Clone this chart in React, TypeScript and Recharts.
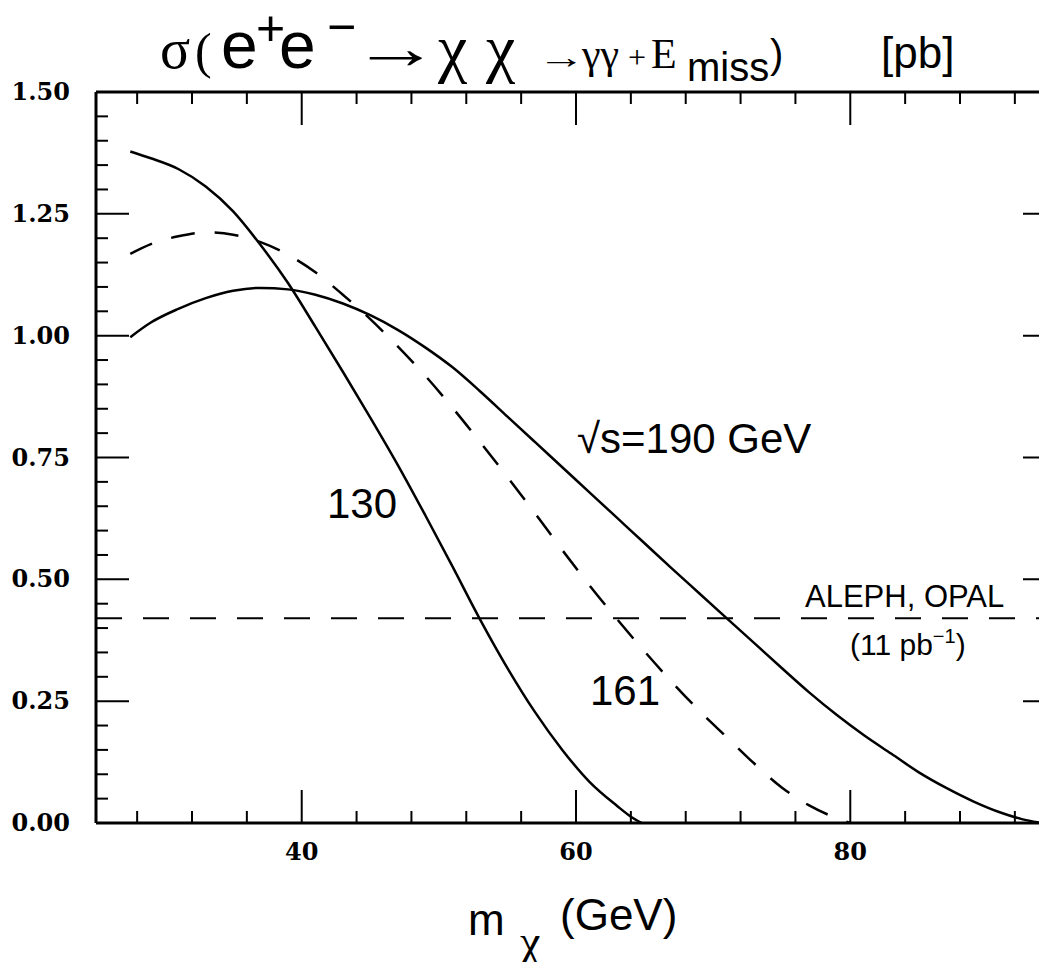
import React from 'react'
import { LineChart, Line, XAxis, YAxis, ReferenceLine } from 'recharts'

// sqrt(s) = 130 GeV (solid)
const mass130 = [27.5, 29, 31, 33, 35, 37, 39, 41, 43, 45, 47, 49, 51, 53, 55, 57, 59, 61, 63, 64, 64.8]
const sigma130 = [1.378, 1.364, 1.342, 1.306, 1.255, 1.186, 1.108, 1.018, 0.926, 0.832, 0.735, 0.632, 0.526, 0.418, 0.318, 0.228, 0.15, 0.084, 0.035, 0.013, 0]

// sqrt(s) = 161 GeV (dashed)
const mass161 = [27.5, 29, 31, 33, 35, 37, 39, 41, 43, 45, 47, 49, 51, 53, 55, 57, 59, 61, 63, 65, 67, 69, 71, 73, 75, 77, 79, 80]
const sigma161 = [1.168, 1.188, 1.204, 1.212, 1.207, 1.192, 1.166, 1.13, 1.084, 1.034, 0.978, 0.918, 0.852, 0.782, 0.71, 0.636, 0.56, 0.487, 0.418, 0.352, 0.289, 0.23, 0.176, 0.122, 0.073, 0.036, 0.01, 0]

// sqrt(s) = 190 GeV (solid)
const mass190 = [27.5, 29, 31, 33, 35, 37, 39, 41, 43, 45, 47, 49, 51, 53, 55, 57, 59, 61, 63, 65, 67, 69, 71, 73, 75, 77, 79, 81, 83, 85, 87, 89, 91, 92.5, 94]
const sigma190 = [0.997, 1.027, 1.055, 1.077, 1.092, 1.098, 1.095, 1.084, 1.066, 1.042, 1.012, 0.976, 0.935, 0.886, 0.834, 0.782, 0.73, 0.678, 0.626, 0.574, 0.522, 0.471, 0.42, 0.369, 0.318, 0.268, 0.222, 0.18, 0.142, 0.104, 0.072, 0.044, 0.021, 0.008, 0]

// ALEPH, OPAL limit (11 pb^-1)
const limitSigma = 0.42

const xTicks = [28, 32, 36, 40, 44, 48, 52, 56, 60, 64, 68, 72, 76, 80, 84, 88, 92]
const xLabels = [40, 60, 80]
const yTicks = [0, 0.05, 0.1, 0.15, 0.2, 0.25, 0.3, 0.35, 0.4, 0.45, 0.5, 0.55, 0.6, 0.65, 0.7, 0.75, 0.8, 0.85, 0.9, 0.95, 1, 1.05, 1.1, 1.15, 1.2, 1.25, 1.3, 1.35, 1.4, 1.45, 1.5]
const yLabels = [0, 0.25, 0.5, 0.75, 1, 1.25, 1.5]

const toRows = (xs: number[], ys: number[]) => xs.map((m, i) => ({ m, s: ys[i] }))

const tickFont = { fontFamily: '"DejaVu Serif", "Liberation Serif", serif', fontSize: 24, fontWeight: 700 }
const SANS = '"Liberation Sans", Arial, sans-serif'
const SERIF = '"Liberation Serif", "DejaVu Serif", serif'

const isMajorY = (v: number) => yLabels.some((l) => Math.abs(l - v) < 1e-6)

const BottomTick = (props: any) => {
  const { x, y, payload } = props
  const major = xLabels.includes(payload.value)
  return (
    <g>
      <line x1={x} x2={x} y1={y} y2={y - (major ? 33 : 12)} stroke="#000" strokeWidth={2} />
      {major && (
        <text x={x} y={y + 37} textAnchor="middle" {...tickFont} fill="#000">
          {payload.value}
        </text>
      )}
    </g>
  )
}

const TopTick = (props: any) => {
  const { x, y, payload } = props
  const major = xLabels.includes(payload.value)
  return <line x1={x} x2={x} y1={y} y2={y + (major ? 33 : 12)} stroke="#000" strokeWidth={2} />
}

const LeftTick = (props: any) => {
  const { x, y, payload } = props
  const major = isMajorY(payload.value)
  return (
    <g>
      <line x1={x} x2={x + (major ? 33 : 12)} y1={y} y2={y} stroke="#000" strokeWidth={2} />
      {major && (
        <text x={x - 26} y={y + 8} textAnchor="end" {...tickFont} fill="#000">
          {payload.value.toFixed(2)}
        </text>
      )}
    </g>
  )
}

const RightTick = (props: any) => {
  const { x, y, payload } = props
  const major = isMajorY(payload.value)
  return <line x1={x} x2={x - (major ? 33 : 12)} y1={y} y2={y} stroke="#000" strokeWidth={2} />
}

const axisLine = { stroke: '#000', strokeWidth: 3 }

export default function App() {
  return (
    <div style={{ margin: -8, width: 1047, height: 970, overflow: 'hidden', position: 'relative', background: '#fff' }}>
      <LineChart width={1100} height={970} margin={{ top: 91, right: 43, bottom: 0, left: 0 }}>
        <XAxis
          xAxisId="bottom"
          type="number"
          dataKey="m"
          domain={[25, 95]}
          allowDataOverflow
          ticks={xTicks}
          interval={0}
          tickSize={0}
          tickMargin={0}
          height={147}
          axisLine={axisLine}
          tickLine={false}
          tick={<BottomTick />}
        />
        <XAxis
          xAxisId="top"
          orientation="top"
          type="number"
          dataKey="m"
          domain={[25, 95]}
          allowDataOverflow
          ticks={xTicks}
          interval={0}
          tickSize={0}
          tickMargin={0}
          height={1}
          axisLine={axisLine}
          tickLine={false}
          tick={<TopTick />}
        />
        <YAxis
          yAxisId="left"
          type="number"
          domain={[0, 1.5]}
          allowDataOverflow
          ticks={yTicks}
          interval={0}
          tickSize={0}
          tickMargin={0}
          width={96}
          axisLine={axisLine}
          tickLine={false}
          tick={<LeftTick />}
        />
        <YAxis
          yAxisId="right"
          orientation="right"
          type="number"
          domain={[0, 1.5]}
          allowDataOverflow
          ticks={yTicks}
          interval={0}
          tickSize={0}
          tickMargin={0}
          width={1}
          axisLine={axisLine}
          tickLine={false}
          tick={<RightTick />}
        />
        <ReferenceLine xAxisId="bottom" yAxisId="left" y={limitSigma} stroke="#000" strokeWidth={2} strokeDasharray="26 21" />
        <Line
          xAxisId="bottom"
          yAxisId="left"
          data={toRows(mass130, sigma130)}
          dataKey="s"
          type="monotone"
          stroke="#000"
          strokeWidth={2.5}
          dot={false}
          isAnimationActive={false}
        />
        <Line
          xAxisId="bottom"
          yAxisId="left"
          data={toRows(mass161, sigma161)}
          dataKey="s"
          type="monotone"
          stroke="#000"
          strokeWidth={2.5}
          strokeDasharray="24 20"
          dot={false}
          isAnimationActive={false}
        />
        <Line
          xAxisId="bottom"
          yAxisId="left"
          data={toRows(mass190, sigma190)}
          dataKey="s"
          type="monotone"
          stroke="#000"
          strokeWidth={2.5}
          dot={false}
          isAnimationActive={false}
        />
      </LineChart>
      <svg width={1047} height={970} style={{ position: 'absolute', left: 0, top: 0, pointerEvents: 'none' }}>
        {/* title */}
        <text x={160} y={68} fontFamily={SERIF} fontSize={56} fill="#000">σ</text>
        <text x={195} y={68} fontFamily={SERIF} fontSize={50} fill="#000">(</text>
        <text x={221} y={68} fontFamily={SANS} fontSize={66} fill="#000">e</text>
        <text x={256} y={45} fontFamily={SANS} fontSize={50} fill="#000">+</text>
        <text x={279} y={68} fontFamily={SANS} fontSize={66} fill="#000">e</text>
        <text x={327} y={44} fontFamily={SANS} fontSize={50} fill="#000">−</text>
        <text x={352} y={68} fontFamily={SERIF} fontSize={60} fill="#000" textLength={88} lengthAdjust="spacingAndGlyphs">→</text>
        <text x={438} y={70} fontFamily={SERIF} fontSize={66} fill="#000">χ</text>
        <text x={486} y={70} fontFamily={SERIF} fontSize={66} fill="#000">χ</text>
        <text x={537} y={68} fontFamily={SERIF} fontSize={32} fill="#000" textLength={48} lengthAdjust="spacingAndGlyphs">→</text>
        <text x={582} y={68} fontFamily={SERIF} fontSize={42} fill="#000">γγ</text>
        <text x={628} y={68} fontFamily={SERIF} fontSize={32} fill="#000">+</text>
        <text x={651} y={68} fontFamily={SERIF} fontSize={42} fill="#000">E</text>
        <text x={687} y={81} fontFamily={SANS} fontSize={40} fill="#000">miss</text>
        <text x={770} y={68} fontFamily={SANS} fontSize={40} fill="#000">)</text>
        <text x={881} y={68} fontFamily={SANS} fontSize={44} fill="#000">[pb]</text>

        {/* x axis title */}
        <text x={468} y={935} fontFamily={SANS} fontSize={44} fill="#000">m</text>
        <text x={520} y={957} fontFamily={SERIF} fontSize={46} fill="#000">χ</text>
        <text x={560} y={930} fontFamily={SANS} fontSize={44} fill="#000">(GeV)</text>

        {/* curve labels */}
        <text x={327} y={518} fontFamily={SANS} fontSize={42} fill="#000">130</text>
        <text x={590} y={705} fontFamily={SANS} fontSize={42} fill="#000">161</text>
        <text x={577} y={453} fontFamily={SANS} fontSize={42} fill="#000">√s=190 GeV</text>
        <text x={805} y={607} fontFamily={SANS} fontSize={31} fill="#000">ALEPH, OPAL</text>
        <text x={850} y={655} fontFamily={SANS} fontSize={30} fill="#000">
          (11 pb
          <tspan dy={-12} fontSize={20}>−1</tspan>
          <tspan dy={12}>)</tspan>
        </text>
      </svg>
    </div>
  )
}
